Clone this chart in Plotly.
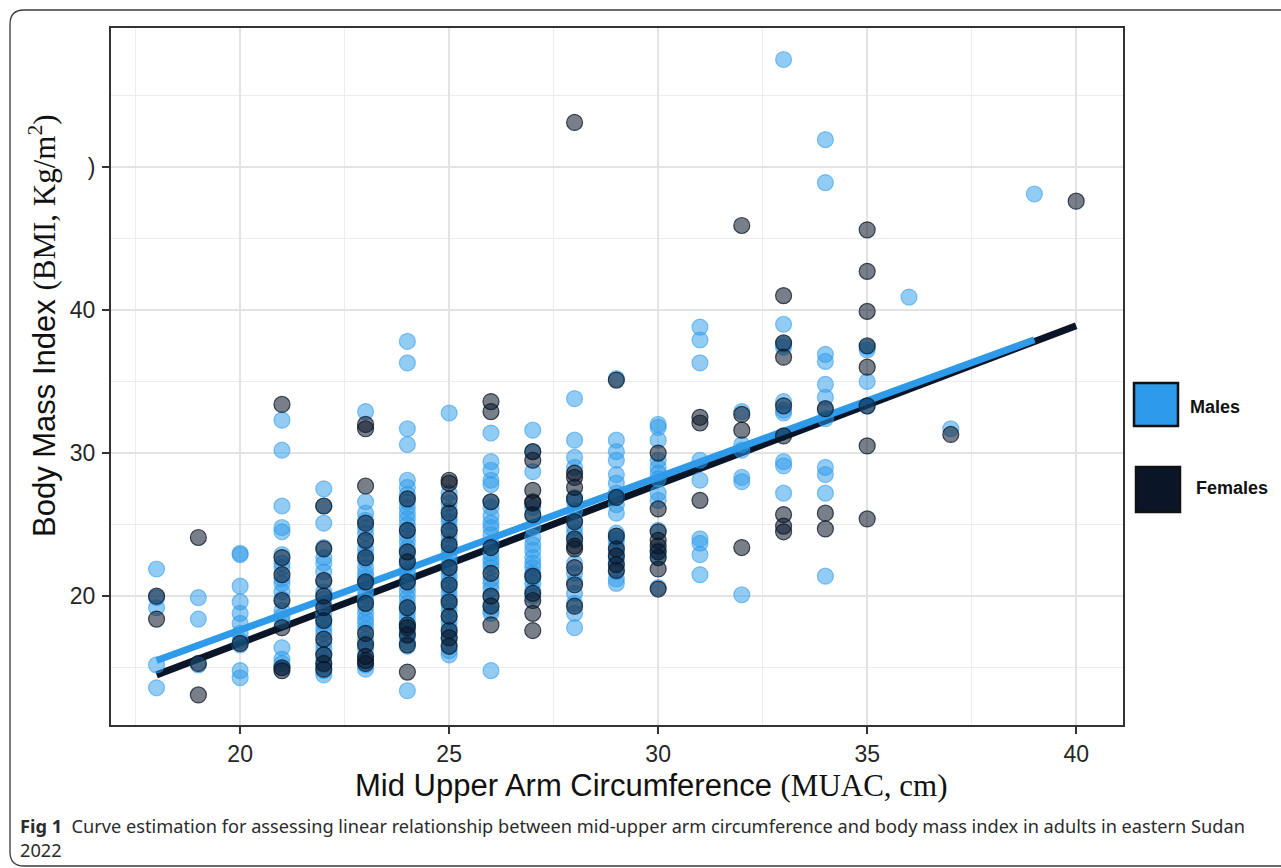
import plotly.graph_objects as go

# ---------------- data ----------------
male_muac = [
    18, 18, 18, 18, 18,
    19, 19, 19,
    20, 20, 20, 20, 20, 20, 20, 20, 20, 20, 20,
    21, 21, 21, 21, 21, 21, 21, 21, 21, 21, 21, 21, 21, 21, 21, 21, 21, 21, 21,
    22, 22, 22, 22, 22, 22, 22, 22, 22, 22, 22, 22, 22, 22, 22, 22, 22, 22, 22, 22, 22, 22, 22,
    23, 23, 23, 23, 23, 23, 23, 23, 23, 23, 23, 23, 23, 23, 23, 23, 23, 23, 23, 23, 23, 23, 23, 23, 23, 23, 23, 23,
    24, 24, 24, 24, 24, 24, 24, 24, 24, 24, 24, 24, 24, 24, 24, 24, 24, 24, 24, 24, 24, 24, 24, 24, 24, 24, 24, 24, 24, 24, 24, 24, 24, 24, 24,
    25, 25, 25, 25, 25, 25, 25, 25, 25, 25, 25, 25, 25, 25, 25, 25, 25, 25, 25, 25, 25, 25, 25, 25, 25, 25, 25, 25, 25,
    26, 26, 26, 26, 26, 26, 26, 26, 26, 26, 26, 26, 26, 26, 26, 26, 26, 26, 26, 26, 26, 26, 26, 26, 26,
    27, 27, 27, 27, 27, 27, 27, 27, 27, 27, 27, 27, 27, 27, 27, 27, 27,
    28, 28, 28, 28, 28, 28, 28, 28, 28, 28, 28, 28, 28, 28, 28, 28, 28, 28,
    29, 29, 29, 29, 29, 29, 29, 29, 29, 29, 29, 29, 29, 29, 29, 29, 29, 29, 29, 29,
    30, 30, 30, 30, 30, 30, 30, 30, 30, 30, 30, 30, 30,
    31, 31, 31, 31, 31, 31, 31, 31, 31,
    32, 32, 32, 32, 32, 32,
    33, 33, 33, 33, 33, 33, 33, 33, 33, 33,
    34, 34, 34, 34, 34, 34, 34, 34, 34, 34, 34, 34,
    35, 35, 35, 35,
    36,
    37,
    39,
]
male_bmi = [
    21.9, 19.9, 19.2, 15.2, 13.6,
    19.9, 18.4, 15.2,
    23.0, 22.9, 20.7, 19.6, 18.8, 18.1, 17.4, 16.9, 16.6, 14.8, 14.3,
    32.3, 30.2, 26.3, 24.8, 24.5, 22.9, 22.3, 22.0, 21.2, 20.9, 20.3, 19.8, 19.0, 18.6, 18.3, 16.4, 15.6, 15.3, 15.0,
    27.5, 26.3, 25.1, 23.4, 22.7, 22.3, 21.7, 21.0, 20.3, 19.8, 19.4, 18.8, 18.4, 18.1, 17.7, 17.4, 16.7, 16.3, 15.9, 15.5, 15.2, 14.8, 14.5,
    32.9, 26.6, 25.8, 25.3, 24.8, 24.4, 23.8, 23.3, 22.9, 22.5, 22.0, 21.6, 21.3, 20.9, 20.4, 20.0, 19.7, 19.2, 18.8, 18.4, 18.1, 17.7, 17.0, 16.7, 16.3, 15.8, 15.2, 14.9,
    37.8, 36.3, 31.7, 30.6, 28.1, 27.6, 27.1, 26.6, 26.2, 25.8, 25.4, 25.0, 24.6, 24.2, 23.8, 23.4, 23.0, 22.6, 22.2, 21.8, 21.5, 21.1, 20.7, 20.3, 19.9, 19.5, 19.1, 18.8, 18.4, 18.0, 17.6, 17.2, 16.8, 16.5, 13.4,
    32.8, 27.2, 26.5, 26.0, 25.5, 25.2, 24.8, 24.3, 23.8, 23.4, 23.0, 22.6, 22.2, 21.8, 21.4, 21.0, 20.6, 20.2, 19.8, 19.4, 19.0, 18.6, 18.2, 17.8, 17.4, 17.0, 16.6, 16.2, 15.9,
    31.4, 29.4, 28.8, 28.1, 27.8, 26.6, 26.2, 25.6, 25.1, 24.8, 24.3, 23.7, 23.4, 23.0, 22.6, 22.3, 22.0, 21.2, 20.9, 20.5, 20.0, 19.4, 19.0, 18.8, 14.8,
    31.6, 30.1, 28.7, 26.2, 25.6, 24.8, 24.1, 23.6, 23.2, 22.7, 22.3, 22.0, 21.6, 21.3, 20.9, 20.4, 20.0,
    33.8, 30.9, 29.7, 29.0, 26.9, 26.6, 26.0, 25.3, 24.8, 24.4, 23.9, 22.3, 21.6, 21.0, 20.2, 19.5, 18.8, 17.8,
    35.2, 30.9, 30.1, 29.5, 28.5, 27.9, 27.2, 26.9, 26.4, 25.8, 24.4, 24.1, 23.9, 23.5, 23.0, 22.6, 22.3, 21.7, 21.2, 20.9,
    32.0, 31.8, 30.9, 29.5, 29.0, 28.6, 28.2, 27.2, 26.7, 24.6, 23.2, 22.8, 20.6,
    38.8, 37.9, 36.3, 29.5, 28.1, 24.0, 23.7, 22.9, 21.5,
    32.9, 30.6, 30.2, 28.3, 28.0, 20.1,
    57.5, 39.0, 37.6, 37.4, 33.6, 33.0, 32.8, 29.4, 29.1, 27.2,
    51.9, 48.9, 36.9, 36.4, 34.8, 33.9, 33.0, 32.4, 29.0, 28.5, 27.2, 21.4,
    37.4, 37.2, 35.0, 33.3,
    40.9,
    31.7,
    48.1,
]

female_muac = [
    18, 18,
    19, 19, 19,
    20,
    21, 21, 21, 21, 21, 21, 21,
    22, 22, 22, 22, 22, 22, 22, 22, 22, 22,
    23, 23, 23, 23, 23, 23, 23, 23, 23, 23, 23, 23, 23,
    24, 24, 24, 24, 24, 24, 24, 24, 24, 24, 24,
    25, 25, 25, 25, 25, 25, 25, 25, 25, 25, 25, 25, 25,
    26, 26, 26, 26, 26, 26, 26, 26,
    27, 27, 27, 27, 27, 27, 27, 27, 27, 27, 27,
    28, 28, 28, 28, 28, 28, 28, 28, 28, 28, 28, 28,
    29, 29, 29, 29, 29, 29, 29,
    30, 30, 30, 30, 30, 30, 30, 30, 30,
    31, 31, 31,
    32, 32, 32, 32,
    33, 33, 33, 33, 33, 33, 33, 33,
    34, 34, 34,
    35, 35, 35, 35, 35, 35, 35, 35,
    37,
    40,
]
female_bmi = [
    20.0, 18.4,
    24.1, 15.3, 13.1,
    16.7,
    33.4, 22.7, 21.5, 19.7, 17.8, 15.0, 14.8,
    26.3, 23.3, 21.1, 20.0, 19.2, 18.3, 17.0, 15.9, 15.3, 14.9,
    32.0, 31.7, 27.7, 25.1, 23.9, 22.7, 21.0, 19.5, 17.4, 16.6, 15.8, 15.5, 15.3,
    26.8, 24.6, 23.1, 22.4, 21.0, 19.2, 18.0, 17.8, 17.3, 16.6, 14.7,
    28.1, 27.9, 26.8, 25.8, 24.6, 23.6, 22.0, 20.8, 19.6, 18.6, 17.6, 17.1, 16.5,
    33.6, 32.9, 26.6, 23.4, 21.6, 20.0, 19.3, 18.0,
    30.1, 29.5, 27.4, 26.6, 26.5, 25.7, 21.4, 20.2, 19.7, 18.8, 17.6,
    53.1, 28.6, 28.3, 27.6, 26.8, 25.2, 24.0, 23.5, 23.3, 22.0, 20.8, 19.3,
    35.1, 26.9, 24.2, 23.3, 22.8, 22.2, 21.8,
    30.0, 26.1, 24.5, 23.9, 23.5, 23.1, 22.7, 21.9, 20.5,
    32.5, 32.1, 26.7,
    45.9, 32.7, 31.6, 23.4,
    41.0, 37.7, 36.7, 33.3, 31.2, 25.7, 24.9, 24.5,
    33.1, 25.8, 24.7,
    45.6, 42.7, 39.9, 37.5, 36.0, 33.3, 30.5, 25.4,
    31.3,
    47.6,
]

# fitted linear trends (intercept, slope)
male_fit = [-3.70, 1.067]
female_fit = [-5.46, 1.109]

series_names = ["Males", "Females"]
x_ticks = [20, 25, 30, 35, 40]
y_ticks = [20, 30, 40, 50]
y_tick_text = ["20", "30", "40", ")"]
x_title_main = "Mid Upper Arm Circumference"
x_title_unit = "(MUAC, cm)"
y_title_main = "Body Mass Index"
y_title_unit = "(BMI, Kg/m<sup>2</sup>)"
caption_label = "Fig 1"
caption_text = ("Curve estimation for assessing linear relationship between mid-upper arm "
                "circumference and body mass index in adults in eastern Sudan")
caption_line2 = "2022"

# ---------------- styling ----------------
MALE = "rgb(46,155,234)"
FEMALE = "rgb(10,22,40)"
SANS = "Liberation Sans, Arial, Helvetica, sans-serif"
SERIF = "Liberation Serif"

W, H = 1281, 868
L, R, T, B = 111, 158, 28, 143
PW, PH = W - L - R, H - T - B


def px(xp):
    return (xp - L) / PW


def py(yp):
    return (H - B - yp) / PH


fig = go.Figure()

# regression lines
for name, xs, fit, col in [("Females", female_muac, female_fit, FEMALE),
                           ("Males", male_muac, male_fit, MALE)]:
    xr = [min(xs), max(xs)]
    fig.add_trace(go.Scatter(
        x=xr, y=[fit[0] + fit[1] * v for v in xr], mode="lines",
        line=dict(color=col, width=7), showlegend=False, hoverinfo="skip"))

# points
fig.add_trace(go.Scatter(
    x=male_muac, y=male_bmi, mode="markers", name=series_names[0], showlegend=False,
    marker=dict(size=16, color="rgba(46,155,234,0.52)",
                line=dict(color="rgba(46,155,234,0.55)", width=1.2))))
fig.add_trace(go.Scatter(
    x=female_muac, y=female_bmi, mode="markers", name=series_names[1], showlegend=False,
    marker=dict(size=16, color="rgba(10,22,40,0.55)",
                line=dict(color="rgba(10,22,40,0.75)", width=1.2))))

axis_common = dict(
    showline=True, linecolor="#333333", linewidth=2, mirror=True,
    ticks="outside", ticklen=7, tickwidth=2, tickcolor="#333333",
    showgrid=True, gridcolor="#E3E3E3", gridwidth=2, zeroline=False,
    tickfont=dict(family=SANS, size=23, color="#262626"),
)

fig.update_xaxes(range=[16.91, 41.12], tickmode="array", tickvals=x_ticks,
                 minor=dict(tickmode="array", tickvals=[17.5, 22.5, 27.5, 32.5, 37.5],
                            showgrid=True, gridcolor="#ECECEC", gridwidth=1.3, ticks=""),
                 ticklabelstandoff=0, **axis_common)
fig.update_yaxes(range=[11.0, 59.7], tickmode="array", tickvals=y_ticks, ticktext=y_tick_text,
                 minor=dict(tickmode="array", tickvals=[15, 25, 35, 45, 55],
                            showgrid=True, gridcolor="#ECECEC", gridwidth=1.3, ticks=""),
                 ticklabelstandoff=2, **axis_common)

annotations = [
    dict(x=px(43), y=py(326), xref="paper", yref="paper", textangle=-90,
         xanchor="center", yanchor="middle", showarrow=False,
         text=f"{y_title_main} <span style='font-family:{SERIF}'>{y_title_unit}</span>",
         font=dict(family=SANS, size=31, color="#111111")),
    dict(x=px(651), y=py(786), xref="paper", yref="paper",
         xanchor="center", yanchor="middle", showarrow=False,
         text=f"{x_title_main} <span style='font-family:{SERIF}'>{x_title_unit}</span>",
         font=dict(family=SANS, size=31, color="#111111")),
    dict(x=px(18), y=py(826), xref="paper", yref="paper",
         xanchor="left", yanchor="middle", showarrow=False,
         text=f"<b>{caption_label}</b>\u00a0\u00a0{caption_text}",
         font=dict(family="Noto Sans", size=18.2, color="#2b2b2b")),
    dict(x=px(18), y=py(850), xref="paper", yref="paper",
         xanchor="left", yanchor="middle", showarrow=False,
         text=caption_line2,
         font=dict(family="Noto Sans", size=18.2, color="#2b2b2b")),
    dict(x=px(1188), y=py(407), xref="paper", yref="paper",
         xanchor="left", yanchor="middle", showarrow=False,
         text=f"<b>{series_names[0]}</b>",
         font=dict(family=SANS, size=18, color="#111111")),
    dict(x=px(1194), y=py(488), xref="paper", yref="paper",
         xanchor="left", yanchor="middle", showarrow=False,
         text=f"<b>{series_names[1]}</b>",
         font=dict(family=SANS, size=18, color="#111111")),
]

shapes = [
    # legend keys
    dict(type="rect", xref="paper", yref="paper",
         x0=px(1134), x1=px(1178), y0=py(426), y1=py(383),
         fillcolor=MALE, line=dict(color="#111111", width=2.5)),
    dict(type="rect", xref="paper", yref="paper",
         x0=px(1136), x1=px(1180), y0=py(512), y1=py(467),
         fillcolor=FEMALE, line=dict(color="#111111", width=2.5)),
]

# rounded figure frame
x0, x1, y0, y1 = px(10), px(1300), py(866), py(10)
rx, ry = 14 / PW, 14 / PH
frame_path = (f"M {x0} {y0 + ry} L {x0} {y1 - ry} Q {x0} {y1} {x0 + rx} {y1} "
              f"L {x1} {y1} M {x1} {y0} L {x0 + rx} {y0} Q {x0} {y0} {x0} {y0 + ry}")
shapes.append(dict(type="path", xref="paper", yref="paper", path=frame_path,
                   line=dict(color="#3a3a3a", width=1.3)))

fig.update_layout(
    width=W, height=H, margin=dict(l=L, r=R, t=T, b=B, pad=0),
    paper_bgcolor="white", plot_bgcolor="white",
    showlegend=False, annotations=annotations, shapes=shapes,
    font=dict(family=SANS),
)

fig.write_html("out.html", config={"displayModeBar": False},
               post_script="document.body.style.margin='0';document.body.style.overflow='hidden';")
